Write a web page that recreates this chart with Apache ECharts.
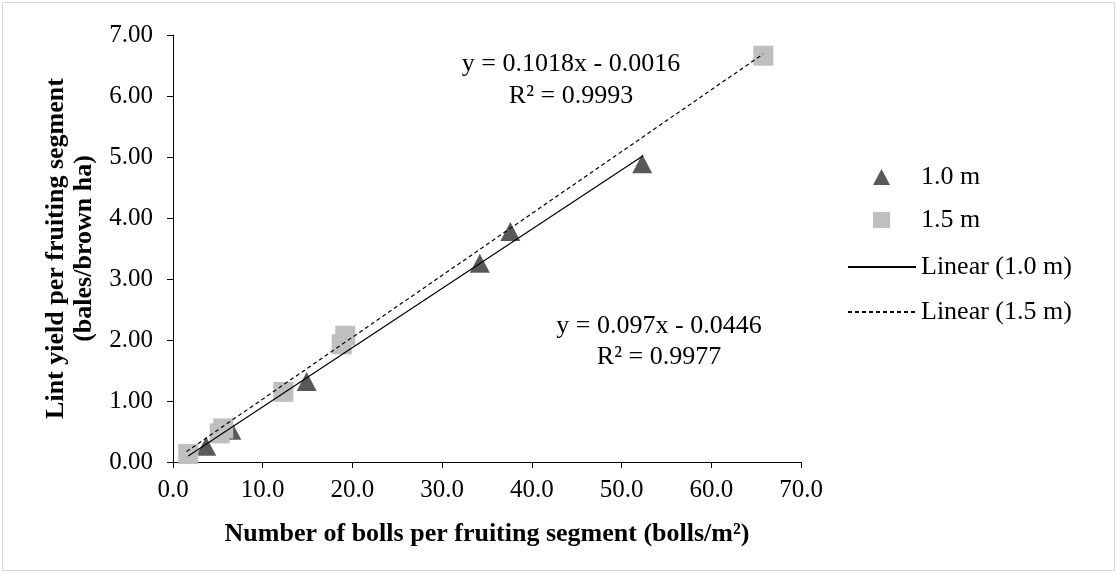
<!DOCTYPE html>
<html><head><meta charset="utf-8">
<script src="https://cdn.jsdelivr.net/npm/echarts@6/dist/echarts.min.js"></script>
<style>html,body{margin:0;padding:0;background:#fff}#c{width:1118px;height:574px}</style>
</head><body><div id="c"></div>
<script>
// Data
const seriesNames = ['1.0 m', '1.5 m'];
const trendNames = ['Linear (1.0 m)', 'Linear (1.5 m)'];
const bolls10 = [3.7, 6.5, 14.9, 34.2, 37.6, 52.3];
const yield10 = [0.26, 0.52, 1.32, 3.26, 3.78, 4.89];
const bolls15 = [1.7, 5.2, 5.6, 12.3, 18.8, 19.2, 65.8];
const yield15 = [0.13, 0.47, 0.55, 1.15, 1.93, 2.07, 6.66];
const trend10X = [1.7, 52.4];
const trend10Y = [0.10, 5.02];
const trend15X = [1.5, 65.8];
const trend15Y = [0.17, 6.69];
const eq15 = ['y = 0.1018x - 0.0016', 'R² = 0.9993'];
const eq10 = ['y = 0.097x - 0.0446', 'R² = 0.9977'];
const xTicks = [0, 10, 20, 30, 40, 50, 60, 70];
const yTicks = [0, 1, 2, 3, 4, 5, 6, 7];

const zip = (a, b) => a.map((v, i) => [v, b[i]]);
const font = '"Liberation Serif","Times New Roman",serif';
const chart = echarts.init(document.getElementById('c'), null, {renderer: 'canvas'});
chart.setOption({
  animation: false,
  backgroundColor: '#fff',
  textStyle: {fontFamily: font},
  grid: {left: 173, right: 317, top: 35, bottom: 112, containLabel: false},
  xAxis: {
    type: 'value', min: xTicks[0], max: xTicks[xTicks.length - 1], interval: 10,
    name: 'Number of bolls per fruiting segment (bolls/m²)',
    nameLocation: 'middle', nameGap: 59,
    nameTextStyle: {fontFamily: font, fontSize: 26, fontWeight: 'bold', color: '#000'},
    axisLine: {show: true, lineStyle: {color: '#000', width: 1}},
    axisTick: {show: true, length: 6, lineStyle: {color: '#000'}},
    axisLabel: {fontFamily: font, fontSize: 25, color: '#000', margin: 16,
      formatter: v => v.toFixed(1)},
    splitLine: {show: false}
  },
  yAxis: {
    type: 'value', min: yTicks[0], max: yTicks[yTicks.length - 1], interval: 1,
    name: 'Lint yield per fruiting segment\n(bales/brown ha)',
    nameLocation: 'middle', nameGap: 71, nameRotate: 90,
    nameTextStyle: {fontFamily: font, fontSize: 26, fontWeight: 'bold', color: '#000', lineHeight: 28},
    axisLine: {show: true, lineStyle: {color: '#000', width: 1}},
    axisTick: {show: true, length: 6, lineStyle: {color: '#000'}},
    axisLabel: {fontFamily: font, fontSize: 25, color: '#000', margin: 20,
      formatter: v => v.toFixed(2)},
    splitLine: {show: false}
  },
  legend: [{
    data: seriesNames, orient: 'vertical', left: 868, top: 159, itemGap: 17,
    itemWidth: 17, itemHeight: 16,
    textStyle: {fontFamily: font, fontSize: 26, color: '#000', padding: [0, 0, 0, 26]}
  }, {
    data: trendNames, orient: 'vertical', left: 842, top: 249, itemGap: 19,
    itemWidth: 68, itemHeight: 24,
    itemStyle: {opacity: 0},
    textStyle: {fontFamily: font, fontSize: 26, color: '#000'}
  }],
  series: [{
    name: seriesNames[0], type: 'scatter', data: zip(bolls10, yield10),
    symbol: 'triangle', symbolSize: [20, 19], itemStyle: {color: '#595959', opacity: 1}, z: 3
  }, {
    name: seriesNames[1], type: 'scatter', data: zip(bolls15, yield15),
    symbol: 'rect', symbolSize: 20, itemStyle: {color: '#BFBFBF', opacity: 1}, z: 3
  }, {
    name: trendNames[0], type: 'line', data: zip(trend10X, trend10Y),
    symbol: 'none', itemStyle: {color: '#000'},
    lineStyle: {color: '#000', width: 1.2, type: 'solid'}, z: 4
  }, {
    name: trendNames[1], type: 'line', data: zip(trend15X, trend15Y),
    symbol: 'none', itemStyle: {color: '#000'},
    lineStyle: {color: '#000', width: 1.2, type: [4, 3]}, z: 4
  }],
  graphic: [{
    type: 'rect', shape: {x: 2.5, y: 2.5, width: 1112, height: 568},
    style: {fill: 'none', stroke: '#D9D9D9', lineWidth: 1}, silent: true, z: -1
  }, {
    type: 'text', x: 571, y: 48,
    style: {text: eq15.join('\n'), font: '26px ' + font, fill: '#000', align: 'center', lineHeight: 32}
  }, {
    type: 'text', x: 659, y: 311,
    style: {text: eq10.join('\n'), font: '26px ' + font, fill: '#000', align: 'center', lineHeight: 31}
  }]
});
</script></body></html>
